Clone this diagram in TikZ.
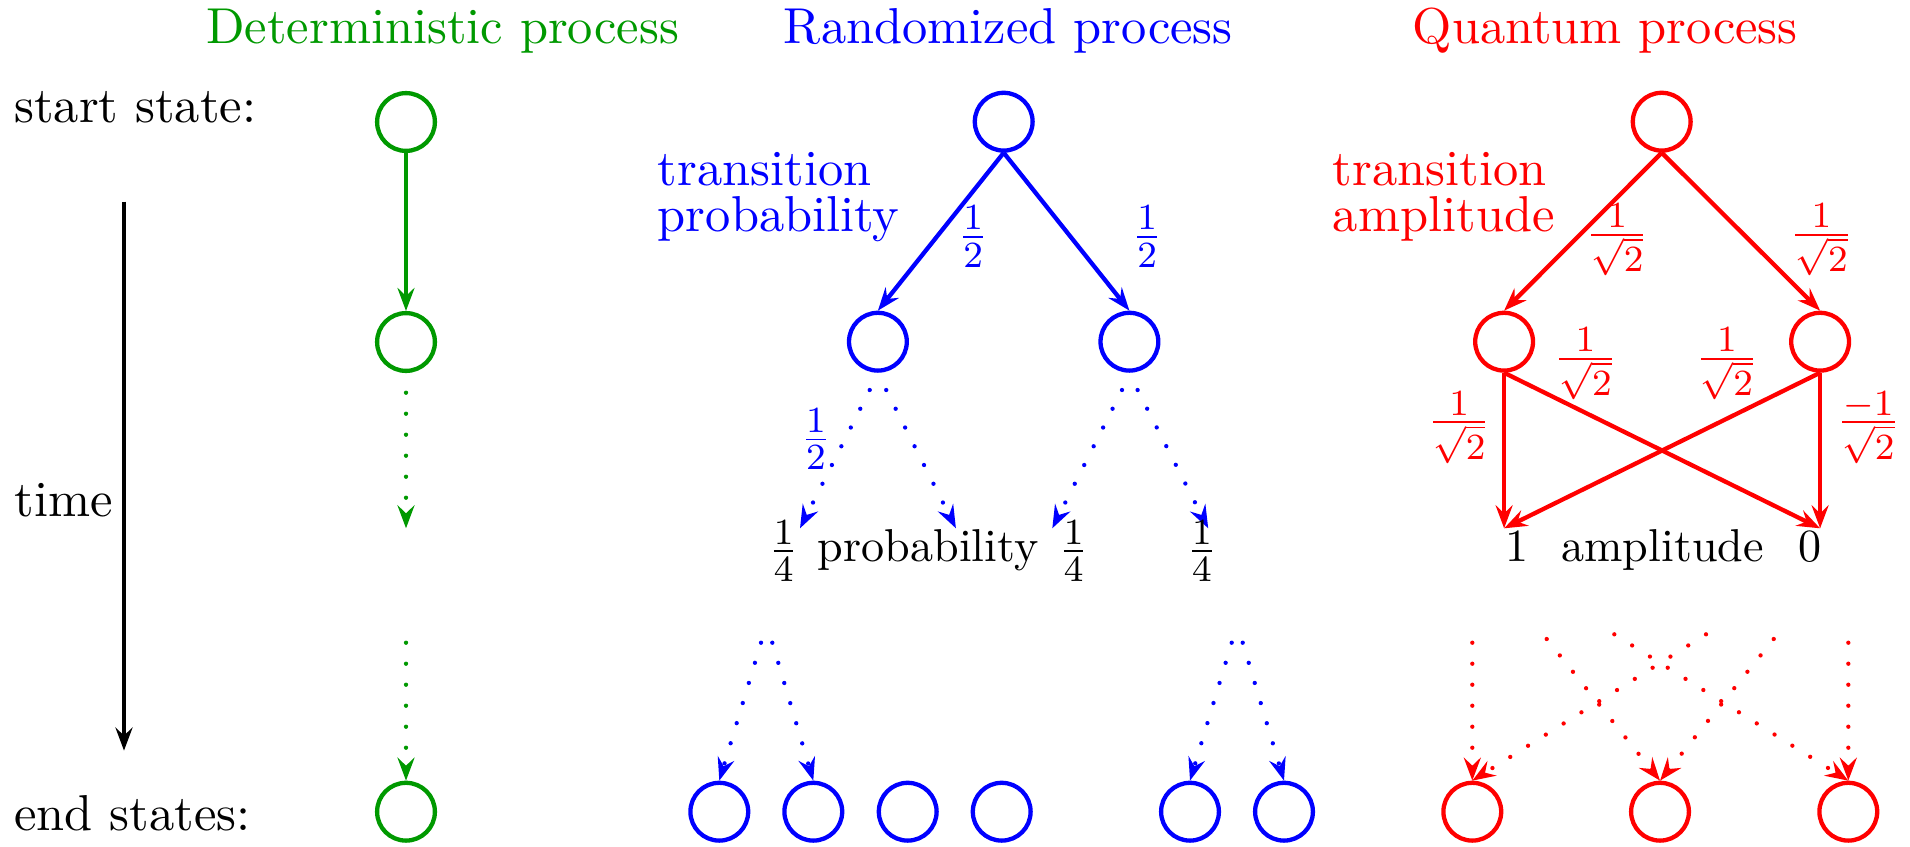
\documentclass[tikz,border=0pt]{standalone}
\usetikzlibrary{arrows.meta}
\definecolor{detgreen}{RGB}{0,153,0}
\newcommand\fmain{\fontsize{10.95}{13.6}\selectfont}
\newcommand\fsmall{\fontsize{10}{12}\selectfont}
\begin{document}
\begin{tikzpicture}[x=1pt,y=-1pt,
  st/.style={circle,draw,line width=4.3pt,minimum size=57.8pt,inner sep=0pt},
  arr/.style={line width=4.3pt,-{Stealth[length=23pt,width=17pt,inset=8pt]}},
  dots/.style={arr,dash pattern=on 0pt off 21pt,line cap=round},
  txt/.style={inner sep=0pt,scale=4.61,font=\fmain},
  stxt/.style={inner sep=0pt,scale=4.61,font=\fsmall},
  lab/.style={txt,anchor=center}]
\useasboundingbox (0,0) rectangle (1910,846);

% titles
\node[txt,anchor=base,text=detgreen] (tD) at (442.7,43.3) {Deterministic process};
\node[txt,anchor=base,text=blue] (tR) at (1008.3,43.3) {Randomized process};
\node[txt,anchor=base,text=red] (tQ) at (1605.2,43.3) {Quantum process};

% left labels
\node[txt,anchor=base west] (lstart) at (13.5,122.7) {start state:};
\node[txt,anchor=base west] (ltime) at (13.5,516) {time};
\node[txt,anchor=base west] (lend) at (13.5,830) {end states:};
\coordinate (t0) at (124,201.6);
\coordinate (t1) at (124,750.6);
\draw[arr,black] (t0) -- (t1);

% ---------- deterministic ----------
\begin{scope}[detgreen]
\node[st] (gT) at (406,122) {};
\node[st] (gM) at (406,342) {};
\node[st] (gE) at (406,811.7) {};
\draw[arr] (gT.south) -- (gM.north);
\coordinate (g1) at (406,392.7);
\coordinate (g2) at (406,528.3);
\coordinate (g3) at (406,642.7);
\draw[dots] (g1) -- (g2);
\draw[dots] (g3) -- (gE.north);
\end{scope}

% ---------- randomized ----------
\begin{scope}[blue]
\node[st] (bT) at (1003.7,121.7) {};
\node[st] (bL) at (877.9,341.7) {};
\node[st] (bR) at (1129.4,341.7) {};
\draw[arr] (bT.south) -- (bL.north);
\draw[arr] (bT.south) -- (bR.north);
\node[lab] (bl1) at (973.1,236.7) {$\frac{1}{2}$};
\node[lab] (bl2) at (1147.1,236.7) {$\frac{1}{2}$};
\node[txt,anchor=base west] (btp1) at (657,185) {transition};
\node[txt,anchor=base west] (btp2) at (657,231.7) {probability};
\coordinate (b1s) at (869.7,390);   \coordinate (b1e) at (800,528.3);
\coordinate (b2s) at (886.2,390);   \coordinate (b2e) at (955.9,528.3);
\coordinate (b3s) at (1122,390);    \coordinate (b3e) at (1052.3,528.3);
\coordinate (b4s) at (1137.6,390);  \coordinate (b4e) at (1208.2,528.3);
\draw[dots] (b1s) -- (b1e);
\draw[dots] (b2s) -- (b2e);
\draw[dots] (b3s) -- (b3e);
\draw[dots] (b4s) -- (b4e);
\node[lab] (bl3) at (815.8,439) {$\frac{1}{2}$};
\node[st] (e1) at (719.3,811.7) {};
\node[st] (e2) at (813.3,811.7) {};
\node[st] (e3) at (907.7,811.7) {};
\node[st] (e4) at (1001.7,811.7) {};
\node[st] (e5) at (1190,811.7) {};
\node[st] (e6) at (1284,811.7) {};
\coordinate (c1) at (761,642.7);
\coordinate (c2) at (772.3,642.7);
\coordinate (c5) at (1231.7,642.7);
\coordinate (c6) at (1242.7,642.7);
\draw[dots] (c1) -- (e1.north);
\draw[dots] (c2) -- (e2.north);
\draw[dots] (c5) -- (e5.north);
\draw[dots] (c6) -- (e6.north);
\end{scope}
\node[lab,text=black] (q1) at (783.6,550.8) {$\frac{1}{4}$};
\node[stxt,anchor=base] (pb) at (928.2,561.7) {probability};
\node[lab,text=black] (q2) at (1073.6,550.8) {$\frac{1}{4}$};
\node[lab,text=black] (q3) at (1202,550.8) {$\frac{1}{4}$};

% ---------- quantum ----------
\begin{scope}[red]
\node[st] (rT) at (1661.7,121.7) {};
\node[st] (rL) at (1504.1,341.7) {};
\node[st] (rR) at (1820.1,341.7) {};
\draw[arr] (rT.south) -- (rL.north);
\draw[arr] (rT.south) -- (rR.north);
\coordinate (qL) at (1504.1,528.3);
\coordinate (qR) at (1820.1,528.3);
\draw[arr] (rL.south) -- (qL);
\draw[arr] (rL.south) -- (qR);
\draw[arr] (rR.south) -- (qL);
\draw[arr] (rR.south) -- (qR);
\node[txt,anchor=base west] (rta1) at (1332,185) {transition};
\node[txt,anchor=base west] (rta2) at (1332,231.7) {amplitude};
\node[lab] (rl1) at (1617.2,240) {$\frac{1}{\sqrt{2}}$};
\node[lab] (rl2) at (1821.5,240) {$\frac{1}{\sqrt{2}}$};
\node[lab] (rl3) at (1585.5,364) {$\frac{1}{\sqrt{2}}$};
\node[lab] (rl4) at (1726.9,364) {$\frac{1}{\sqrt{2}}$};
\node[lab] (rl5) at (1459.2,427.5) {$\frac{1}{\sqrt{2}}$};
\node[lab] (rl6) at (1868.4,427.5) {$\frac{-1}{\sqrt{2}}$};
\node[st] (f1) at (1472.3,811.7) {};
\node[st] (f2) at (1660,811.7) {};
\node[st] (f3) at (1848.3,811.7) {};
\coordinate (d1) at (1472.3,642.7);
\coordinate (d2) at (1546.7,639);
\coordinate (d3) at (1614.3,634.3);
\coordinate (d4) at (1706,634.3);
\coordinate (d5) at (1773.7,639);
\coordinate (d6) at (1848.3,642.7);
\draw[dots] (d1) -- (f1.north);
\draw[dots] (d2) -- (f2.north);
\draw[dots] (d3) -- (f3.north);
\draw[dots] (d4) -- (f1.north);
\draw[dots] (d5) -- (f2.north);
\draw[dots] (d6) -- (f3.north);
\end{scope}
\node[stxt,anchor=base] (n1) at (1516.7,561.7) {1};
\node[stxt,anchor=base] (amp) at (1662.7,561.7) {amplitude};
\node[stxt,anchor=base] (n0) at (1809.5,561.7) {0};
\end{tikzpicture}
\end{document}
